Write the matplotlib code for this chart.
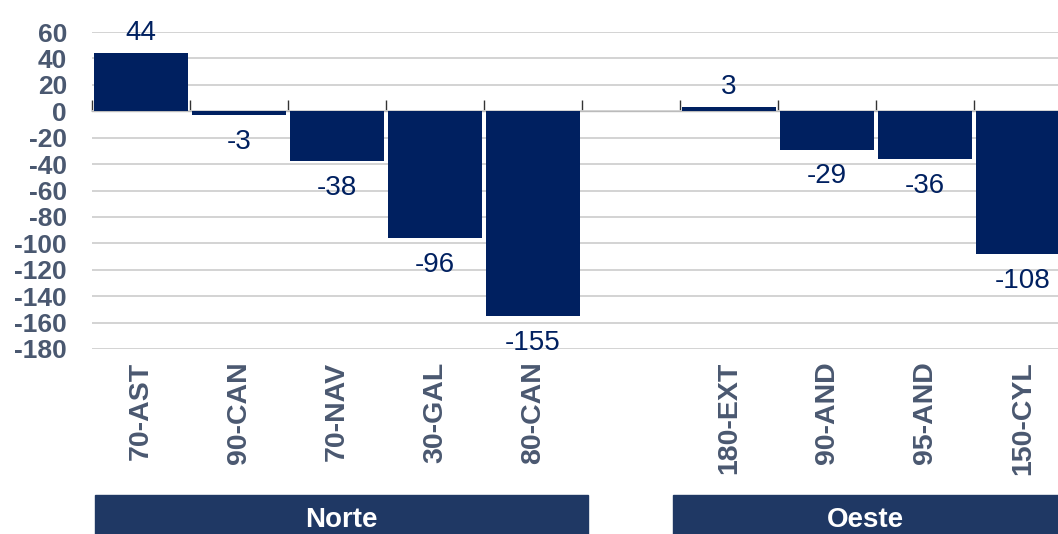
import matplotlib
matplotlib.use("Agg")
import matplotlib.pyplot as plt
from matplotlib.patches import Rectangle
from matplotlib.transforms import blended_transform_factory
import numpy as np

plt.rcParams['font.family'] = ['Liberation Sans', 'DejaVu Sans']

# datos
norte_labels = ["70-AST", "90-CAN", "70-NAV", "30-GAL", "80-CAN"]
norte_values = [44, -3, -38, -96, -155]
oeste_labels = ["180-EXT", "90-AND", "95-AND", "150-CYL"]
oeste_values = [3, -29, -36, -108]
groups = ["Norte", "Oeste"]
y_ticks = list(range(-180, 61, 20))

bar_color = "#002060"
box_color = "#1f3864"
label_color = "#4a5870"

# posiciones con hueco entre grupos
pos_norte = np.arange(len(norte_labels))
pos_oeste = np.arange(len(oeste_labels)) + len(norte_labels) + 1
positions = np.concatenate([pos_norte, pos_oeste])
values = norte_values + oeste_values
labels = norte_labels + oeste_labels

fig = plt.figure(figsize=(10.58, 5.34), dpi=100)
ax = fig.add_axes([92 / 1058, 1 - 349 / 534, 966 / 1058, 317 / 534])

ax.bar(positions, values, width=0.95, color=bar_color, zorder=3)
ax.set_xlim(-0.5, 9.357)
ax.set_ylim(-180, 60)

ax.set_yticks(y_ticks)
ax.set_yticklabels([str(t) for t in y_ticks], fontsize=19, fontweight="bold", color=label_color)
ax.tick_params(axis="y", length=0, pad=18)
ax.yaxis.grid(True, color="#d0d0d0", lw=1.3, zorder=0)
ax.set_axisbelow(True)

ax.set_xticks(positions)
ax.set_xticklabels(labels, rotation=90, fontsize=20.5, fontweight="bold", color=label_color)
ax.tick_params(axis="x", length=0, pad=9)

for s in ax.spines.values():
    s.set_visible(False)

# linea de cero con marcas
zero_axis = ax.secondary_xaxis(180 / 240)
zero_axis.set_xticks(np.arange(-0.5, 9.0, 1.0))
zero_axis.set_xticklabels([])
zero_axis.tick_params(axis="x", direction="out", length=8, width=1, color="#333333")
zero_axis.spines["bottom"].set_color("black")
zero_axis.spines["bottom"].set_linewidth(1.2)

# etiquetas de valores
for x, v in zip(positions, values):
    if v >= 0:
        ax.annotate(str(v), (x, v), xytext=(0, 5), textcoords="offset points",
                    ha="center", va="bottom", fontsize=20, color=bar_color)
    else:
        ax.annotate(str(v), (x, v), xytext=(0, -10), textcoords="offset points",
                    ha="center", va="top", fontsize=20, color=bar_color)

# cajas de grupo
trans = blended_transform_factory(ax.transData, fig.transFigure)
group_spans = [(pos_norte[0] - 0.47, pos_norte[-1] + 0.56), (pos_oeste[0] - 0.57, pos_oeste[-1] + 0.6)]
for name, (x0, x1) in zip(groups, group_spans):
    rect = Rectangle((x0, 0), x1 - x0, 1 - 495 / 534, transform=trans,
                     color=box_color, clip_on=False)
    fig.add_artist(rect)
    xc = (x0 + min(x1, 9.357)) / 2
    fig.text(xc, 1 - 520 / 534, name, transform=trans, ha="center", va="center",
             fontsize=20, fontweight="bold", color="white")

fig.savefig("out.png", dpi=100)
